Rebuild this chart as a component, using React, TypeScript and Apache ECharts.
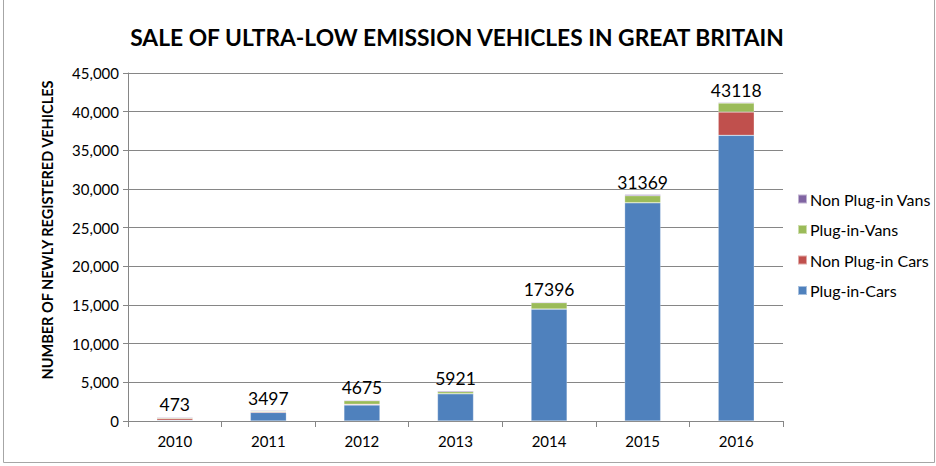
import React, { useEffect, useRef } from "react";
import * as echarts from "echarts";

const years = ["2010", "2011", "2012", "2013", "2014", "2015", "2016"];
const plugInCars = [100, 1110, 2070, 3530, 14480, 28230, 36940];
const nonPlugInCars = [220, 90, 100, 0, 0, 0, 3020];
const plugInVans = [90, 100, 450, 260, 820, 900, 1150];
const nonPlugInVans = [120, 80, 100, 130, 90, 150, 100];
const totals = [473, 3497, 4675, 5921, 17396, 31369, 43118];
const yTicks = [0, 5000, 10000, 15000, 20000, 25000, 30000, 35000, 40000, 45000];
const yAxisTitle = "NUMBER OF NEWLY REGISTERED VEHICLES";

const FONT = "Lato, 'Open Sans', sans-serif";

export default function App() {
  const ref = useRef<HTMLDivElement>(null);
  useEffect(() => {
    document.body.style.margin = "0";
    const chart = echarts.init(ref.current!, null, { renderer: "svg" });
    const barBase = {
      type: "bar" as const,
      stack: "total",
      barWidth: 36,
      itemStyle: { borderColor: "rgba(255,255,255,0.5)", borderWidth: 0.5 },
    };
    chart.setOption({
      animation: false,
      textStyle: { fontFamily: FONT },
      title: {
        text: "SALE OF ULTRA-LOW EMISSION VEHICLES IN GREAT BRITAIN",
        left: 452,
        textAlign: "center",
        top: 20,
        textStyle: { fontFamily: FONT, fontSize: 22.8, fontWeight: "bold", color: "#000" },
      },
      graphic: [
        {
          type: "rect",
          shape: { x: 3.5, y: -2, width: 931, height: 464.5 },
          style: { fill: "none", stroke: "#a6a6a6", lineWidth: 1 },
          silent: true,
        },
        {
          type: "text",
          x: 47,
          y: 230,
          rotation: Math.PI / 2,
          style: {
            text: yAxisTitle,
            fontFamily: FONT,
            fontSize: 14.5,
            fontWeight: "bold",
            fill: "#000",
            align: "center",
            verticalAlign: "middle",
          },
          silent: true,
        },
      ],
      legend: {
        orient: "vertical",
        left: 792,
        top: 185,
        itemWidth: 9,
        itemHeight: 9,
        itemGap: 12.5,
        icon: "rect",
        data: ["Non Plug-in Vans", "Plug-in-Vans", "Non Plug-in Cars", "Plug-in-Cars"],
        textStyle: { fontFamily: FONT, fontSize: 16, lineHeight: 18, color: "#000", padding: [0, 0, 0, -2] },
      },
      grid: { left: 128, right: 153, top: 73, bottom: 45 },
      xAxis: {
        type: "category",
        data: years,
        axisLine: { lineStyle: { color: "#868686" } },
        axisTick: { show: true, length: 6, lineStyle: { color: "#868686" } },
        axisLabel: { fontFamily: FONT, fontSize: 15, color: "#000", margin: 12 },
      },
      yAxis: {
        type: "value",
        min: 0,
        max: 45000,
        interval: 5000,
        axisLine: { show: true, lineStyle: { color: "#868686" } },
        axisTick: { show: true, length: 5, lineStyle: { color: "#868686" } },
        splitLine: { lineStyle: { color: "#868686" } },
        axisLabel: {
          fontFamily: FONT,
          fontSize: 15,
          color: "#000",
          margin: 9,
          formatter: (v: number) => (yTicks.includes(v) ? v.toLocaleString("en-US") : ""),
        },
      },
      series: [
        { ...barBase, name: "Plug-in-Cars", data: plugInCars, itemStyle: { ...barBase.itemStyle, color: "#4F81BD" } },
        { ...barBase, name: "Non Plug-in Cars", data: nonPlugInCars, itemStyle: { ...barBase.itemStyle, color: "#C0504D" } },
        { ...barBase, name: "Plug-in-Vans", data: plugInVans, itemStyle: { ...barBase.itemStyle, color: "#9BBB59" } },
        {
          ...barBase,
          name: "Non Plug-in Vans",
          data: nonPlugInVans,
          itemStyle: { ...barBase.itemStyle, color: "#8064A2" },
          label: {
            show: true,
            position: "top",
            distance: 3,
            fontFamily: FONT,
            fontSize: 17.5,
            color: "#000",
            formatter: (p: any) => String(totals[p.dataIndex]),
          },
        },
      ],
    });
    return () => chart.dispose();
  }, []);
  return <div ref={ref} style={{ width: 936, height: 466 }} />;
}
